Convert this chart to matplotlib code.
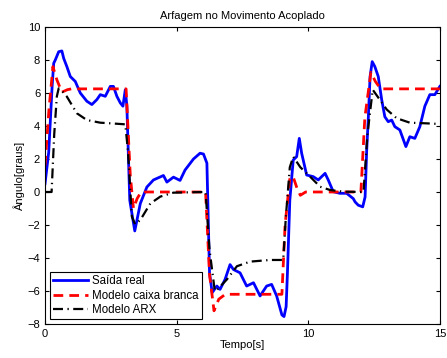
import matplotlib
matplotlib.use('Agg')
import matplotlib.pyplot as plt
import numpy as np

plt.rcParams['font.family'] = ['Liberation Sans', 'DejaVu Sans']

# Saida real (blue)
t_real = [0.0, 0.14, 0.27, 0.33, 0.39, 0.52, 0.64, 0.71, 0.83, 0.96, 1.15, 1.34, 1.59, 1.78,
          1.97, 2.1, 2.29, 2.48, 2.6, 2.73, 2.86, 2.96, 3.05, 3.11, 3.22, 3.41, 3.62, 3.87,
          4.12, 4.5, 4.63, 4.88, 5.13, 5.32, 5.64, 5.89, 6.02, 6.15, 6.25, 6.35, 6.53, 6.65,
          6.84, 7.03, 7.16, 7.41, 7.66, 7.92, 8.17, 8.42, 8.61, 8.8, 9.0, 9.08, 9.16, 9.21,
          9.3, 9.43, 9.56, 9.66, 9.75, 9.94, 10.19, 10.38, 10.64, 10.76, 10.95, 11.2, 11.46,
          11.71, 11.78, 11.9, 12.07, 12.16, 12.22, 12.28, 12.35, 12.43, 12.53, 12.66, 12.79,
          12.91, 13.04, 13.17, 13.29, 13.48, 13.71, 13.86, 14.05, 14.24, 14.43, 14.62, 14.81, 15.0]
y_real = [0.5, 2.4, 6.4, 7.8, 8.0, 8.5, 8.55, 8.1, 7.6, 7.0, 6.7, 6.0, 5.5, 5.3,
          5.6, 5.9, 5.8, 6.4, 6.4, 5.8, 5.4, 5.2, 6.2, 5.2, -0.5, -2.36, -0.7, 0.3,
          0.73, 1.0, 0.6, 0.9, 0.7, 1.33, 2.0, 2.35, 2.3, 1.75, -4.9, -6.1, -5.7, -5.9,
          -5.3, -4.4, -4.7, -4.9, -5.7, -5.5, -6.3, -5.7, -5.6, -6.3, -7.45, -7.55, -6.95, -4.9,
          -0.5, 1.94, 2.14, 3.25, 2.35, 1.03, 0.93, 0.73, 1.13, 0.73, 0.02, -0.08, -0.08,
          -0.4, -0.6, -0.8, -0.9, -0.3, 2.5, 4.4, 7.0, 7.9, 7.6, 7.0, 5.6,
          4.56, 4.26, 4.36, 3.96, 3.76, 2.75, 3.35, 3.25, 3.96, 5.2, 5.9, 5.9, 6.4]

# Modelo caixa branca (red dashed)
t_wb = [0.0, 0.15, 0.3, 0.45, 0.64, 0.85, 1.0, 3.08, 3.24, 3.36, 3.5, 3.65, 6.1, 6.25, 6.42,
        6.6, 6.85, 9.0, 9.12, 9.3, 9.42, 9.58, 9.7, 9.9, 12.0, 12.15, 12.38, 12.55, 12.75, 15.0]
y_wb = [1.6, 5.0, 7.6, 6.8, 6.05, 6.2, 6.25, 6.25, 1.0, -1.0, -0.4, 0.0, 0.0, -5.0, -7.2,
        -6.5, -6.2, -6.2, -2.0, 0.8, 0.95, 0.2, -0.2, 0.0, 0.0, 4.5, 7.25, 6.7, 6.25, 6.25]

# Modelo ARX (black dash-dot)
t_arx = [0.0, 0.25, 0.35, 0.45, 0.52, 0.6, 0.83, 1.21, 1.59, 2.1, 2.6, 3.05, 3.15, 3.3, 3.42,
         3.62, 4.0, 4.38, 4.88, 6.1, 6.25, 6.45, 6.53, 6.91, 7.29, 7.79, 8.55, 9.05, 9.15,
         9.3, 9.43, 9.7, 10.07, 10.45, 10.83, 11.33, 12.1, 12.25, 12.45, 12.98, 13.36, 13.86,
         14.5, 15.0]
y_arx = [0.0, 0.0, 3.5, 5.8, 6.28, 6.2, 5.78, 4.77, 4.36, 4.2, 4.15, 4.1, 2.5, -1.5, -1.95,
         -1.7, -0.7, -0.28, -0.04, 0.0, -3.5, -6.0, -5.94, -5.3, -4.5, -4.22, -4.12, -4.12, -1.5,
         1.5, 2.14, 1.5, 0.93, 0.32, 0.12, 0.02, 0.0, 3.5, 6.2, 5.0, 4.47, 4.2,
         4.16, 4.12]

fig = plt.figure(figsize=(4.47, 3.58), dpi=100)
ax = fig.add_axes([0.1007, 0.095, 0.8833, 0.8296])

ax.plot(t_real, y_real, color='#0000ff', lw=2.0, label='Saída real')
ax.plot(t_wb, y_wb, color='#ff0000', lw=2.0, ls=(0, (3.5, 2.2)), label='Modelo caixa branca')
ax.plot(t_arx, y_arx, color='black', lw=1.6, ls=(0, (4.5, 2, 0.6, 2)), label='Modelo ARX')

ax.set_xlim(0, 15)
ax.set_ylim(-8, 10)
ax.set_xticks([0, 5, 10, 15])
ax.set_yticks(np.arange(-8, 11, 2))
ax.tick_params(direction='in', top=True, right=True, labelsize=8, length=3)
for s in ax.spines.values():
    s.set_linewidth(0.8)

ax.set_title('Arfagem no Movimento Acoplado', fontsize=8, pad=6)
ax.set_xlabel('Tempo[s]', fontsize=8, labelpad=1)
ax.set_ylabel('Ângulo[graus]', fontsize=8, labelpad=2)

leg = ax.legend(loc='lower left', fontsize=8.3, fancybox=False, edgecolor='black',
                framealpha=1, borderaxespad=0.4, handlelength=3.0, borderpad=0.3,
                labelspacing=0.2, handletextpad=0.4)
leg.get_frame().set_linewidth(0.8)

fig.savefig('out.png', dpi=100)
